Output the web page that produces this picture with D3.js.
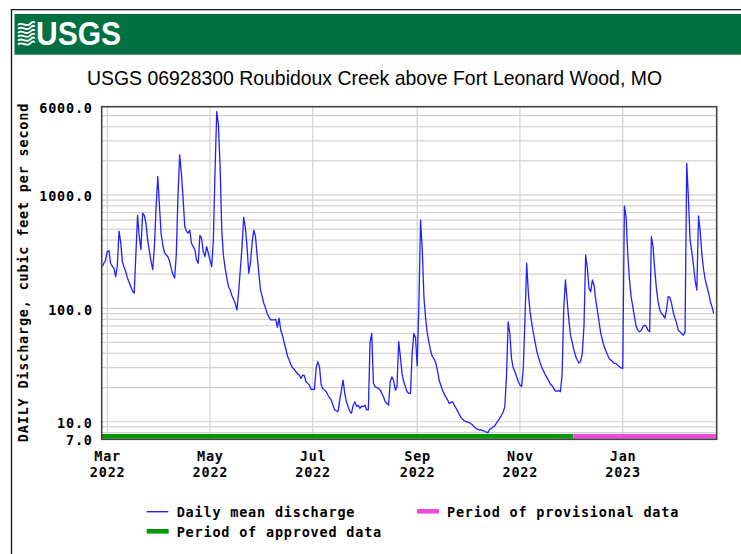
<!DOCTYPE html>
<html>
<head>
<meta charset="utf-8">
<script src="https://cdn.jsdelivr.net/npm/d3@7"></script>
<style>
    html, body { margin: 0; padding: 0; background: #fff; }
    svg { display: block; }
    .mono { font-family: "DejaVu Sans Mono", "Liberation Mono", monospace; font-weight: bold; font-size: 13.5px; letter-spacing: 0.8px; fill: #000; }
</style>
</head>
<body>
<div id="chart"></div>
<script>
'use strict';

// ---- data ----
const stationTitle = "USGS 06928300 Roubidoux Creek above Fort Leonard Wood, MO";
const yAxisTitle = "DAILY Discharge, cubic feet per second";
const firstDay = "2022-02-26";

// daily mean discharge, ft3/s, one value per day starting at firstDay
const dailyMean = [
    233, 250, 267, 316, 323, 250, 235, 225, 190, 240,
    480, 380, 258, 230, 210, 185, 170, 155, 142, 136,
    300, 660, 430, 330, 690, 660, 560, 400, 320, 260,
    220, 350, 780, 1450, 800, 450, 360, 310, 295, 285,
    260, 225, 200, 185, 300, 1000, 2250, 1550, 950, 530,
    480, 460, 490, 375, 350, 330, 267, 250, 440, 415,
    316, 286, 350, 306, 267, 233, 401, 1660, 5440, 4150,
    1780, 480, 290, 225, 185, 155, 145, 130, 120, 110,
    97, 140, 220, 350, 635, 510, 350, 204, 250, 380,
    490, 430, 290, 204, 145, 127, 110, 100, 90, 84,
    79, 79, 79, 80, 68, 82, 64, 58, 50, 44,
    38, 35, 32, 30, 29, 27.6, 26.5, 25.8, 24.1, 25.8,
    25.5, 22.5, 21.8, 21.1, 19.3, 19.3, 19.3, 29.6, 33.8, 30.6,
    21.1, 19.7, 19, 18.4, 17.2, 16.2, 15.5, 14.0, 12.7, 12.5,
    12.3, 15.5, 19.0, 23.3, 17.8, 15, 13.6, 12.3, 11.9, 14,
    15, 13.6, 14, 13.1, 13.7, 13.6, 14, 12.7, 12.7, 50,
    60, 22, 20.4, 20.0, 19.7, 19.0, 17.8, 16.6, 15.0, 14.5,
    14.0, 22.5, 24.9, 23, 19, 20.4, 50.8, 37.5, 26.7, 22.5,
    20.4, 18.4, 17.8, 17.8, 40, 60, 55, 31, 110, 600,
    330, 125, 82, 60, 50, 42, 37.5, 36, 33, 28.6,
    23.3, 21, 19, 17.6, 16.5, 15.6, 14.5, 14.8, 15.0, 14.0,
    13.2, 12.4, 11.6, 10.9, 10.5, 10.2, 10.0, 9.9, 9.8, 9.6,
    9.3, 9.0, 8.7, 8.6, 8.4, 8.5, 8.3, 8.3, 8.1, 8.0,
    8.6, 8.7, 9.0, 9.2, 9.7, 10.2, 10.7, 11.4, 12.2, 13.5,
    25, 76, 60, 36, 30, 27.6, 25, 22.5, 21.1, 20.4,
    30, 84, 250, 136, 93, 74, 60, 50, 42, 37,
    33, 30, 28, 26, 24.5, 23, 21.5, 20.8, 19.8, 18.6,
    18.6, 18.8, 18.4, 25.8, 100, 178, 118, 80, 58, 50,
    43, 38, 35, 33, 34, 40, 69, 296, 225, 150,
    140, 178, 160, 118, 95, 75, 60, 52, 46, 42,
    39, 36, 35, 33.8, 32.7, 32.7, 31.5, 30.6, 29.8, 29.6,
    800, 640, 300, 178, 127, 103, 84, 69, 64, 62,
    64, 69, 71, 69, 64, 62, 429, 350, 220, 150,
    115, 97, 90, 87, 82, 97, 127, 125, 110, 92,
    82, 74, 64, 62, 60, 58, 62, 1900, 935, 400,
    316, 241, 175, 145, 653, 475, 300, 220, 178, 155,
    136, 115, 103, 90
];

const xDomain = ["2022-02-25T17:00", "2023-02-25T19:00"];
const xTickDates = ["2022-03-01", "2022-05-01", "2022-07-01", "2022-09-01", "2022-11-01", "2023-01-01"];
const yDomain = [7, 6000];
const yTickValues = [6000, 1000, 100, 10, 7];

const periodNames = ["Period of approved data", "Period of provisional data"];
const periodStarts = ["2022-02-25T17:00", "2022-12-02T17:00"];
const periodEnds = ["2022-12-02T17:00", "2023-02-25T19:00"];
const periodColors = ["#009a00", "#f04adc"];

const lineName = "Daily mean discharge";
const lineColor = "#2121ff";

// ---- layout ----
const W = 741, H = 554;
const plot = {left: 101.7, top: 106.7, width: 615, height: 332.6};

const parseDay = d3.utcParse("%Y-%m-%d");
const parseTime = d3.utcParse("%Y-%m-%dT%H:%M");

const start = parseDay(firstDay);
const series = dailyMean.map((v, i) => ({date: d3.utcDay.offset(start, i), value: v}));

const x = d3.scaleUtc()
    .domain(xDomain.map(parseTime))
    .range([0, plot.width]);

const y = d3.scaleLog()
    .domain(yDomain)
    .range([plot.height, 0]);

const svg = d3.select('#chart').append('svg')
    .attr('width', W)
    .attr('height', H);

// outer frame lines
svg.append('path')
    .attr('d', 'M11.5,554 L11.5,9.7 L741,9.7')
    .attr('fill', 'none')
    .attr('stroke', '#111')
    .attr('stroke-width', 1.3);

// USGS banner
const banner = svg.append('g');
banner.append('rect')
    .attr('x', 14.5).attr('y', 14)
    .attr('width', W - 14.5).attr('height', 40.7)
    .attr('fill', '#006f41');

const waves = banner.append('g')
    .attr('fill', 'none')
    .attr('stroke', '#fff')
    .attr('stroke-width', 1.9);
[0, 1, 2, 3, 4, 5].forEach(i => {
    let y0 = 24 + i * 3.9;
    waves.append('path')
        .attr('d', 'M18,' + (y0 + 1) + ' C22,' + (y0 - 3) + ' 26,' + (y0 + 4) + ' 30,' + y0 + ' S34,' + (y0 - 1) + ' 35,' + (y0 - 2));
});

banner.append('text')
    .attr('x', 36)
    .attr('y', 45)
    .attr('textLength', 85)
    .attr('lengthAdjust', 'spacingAndGlyphs')
    .style('font-family', '"Liberation Sans Narrow", "Liberation Sans", Arial, sans-serif')
    .style('font-weight', 'bold')
    .style('font-size', '33px')
    .style('fill', '#fff')
    .text('USGS');

// title
svg.append('text')
    .attr('x', 374.5)
    .attr('y', 84.5)
    .attr('text-anchor', 'middle')
    .attr('textLength', 575)
    .attr('lengthAdjust', 'spacingAndGlyphs')
    .style('font-family', '"Liberation Sans Narrow", "Liberation Sans", Arial, sans-serif')
    .style('font-size', '21px')
    .style('fill', '#000')
    .text(stationTitle);

const chart = svg.append('g')
    .attr('transform', 'translate(' + plot.left + ',' + plot.top + ')');

// grid
const gridColor = '#d2d2d2';
chart.append('g')
    .selectAll('line')
    .data(y.ticks().filter(d => d > yDomain[0] && d < yDomain[1]))
    .enter()
    .append('line')
    .attr('x1', 0).attr('x2', plot.width)
    .attr('y1', d => y(d)).attr('y2', d => y(d))
    .attr('stroke', gridColor)
    .attr('stroke-width', 1.2);

chart.append('g')
    .selectAll('line')
    .data(xTickDates.map(parseDay))
    .enter()
    .append('line')
    .attr('x1', d => x(d)).attr('x2', d => x(d))
    .attr('y1', 0).attr('y2', plot.height)
    .attr('stroke', gridColor)
    .attr('stroke-width', 1.2);

// period bars
chart.append('g')
    .selectAll('rect')
    .data(periodNames)
    .enter()
    .append('rect')
    .attr('x', (d, i) => x(parseTime(periodStarts[i])))
    .attr('width', (d, i) => x(parseTime(periodEnds[i])) - x(parseTime(periodStarts[i])))
    .attr('y', plot.height - 5.3)
    .attr('height', 4.6)
    .attr('fill', (d, i) => periodColors[i]);

// discharge line
const line = d3.line()
    .x(d => x(d.date))
    .y(d => y(d.value));

chart.append('path')
    .datum(series)
    .attr('d', line)
    .attr('fill', 'none')
    .attr('stroke', lineColor)
    .attr('stroke-width', 1.3)
    .attr('stroke-linejoin', 'round');

// plot frame
chart.append('rect')
    .attr('width', plot.width)
    .attr('height', plot.height)
    .attr('fill', 'none')
    .attr('stroke', '#444')
    .attr('stroke-width', 1.6);

// y axis labels
const yAxis = d3.axisLeft(y)
    .tickValues(yTickValues)
    .tickFormat(d3.format('.1f'))
    .tickSize(0)
    .tickPadding(8.9);

const yAxisGroup = chart.append('g').call(yAxis);
yAxisGroup.select('.domain').remove();
yAxisGroup.selectAll('text')
    .attr('class', 'mono')
    .attr('dy', '0.42em')
    .attr('fill', null);

// x axis labels, two lines each
const xAxisGroup = chart.append('g')
    .attr('transform', 'translate(0,' + plot.height + ')');
const xLabels = xAxisGroup.selectAll('text')
    .data(xTickDates.map(parseDay))
    .enter()
    .append('text')
    .attr('class', 'mono')
    .attr('text-anchor', 'middle')
    .attr('transform', d => 'translate(' + (x(d) + 0.4) + ',0)');
xLabels.append('tspan')
    .attr('x', 0).attr('y', 21.4)
    .text(d3.utcFormat('%b'));
xLabels.append('tspan')
    .attr('x', 0).attr('y', 37.4)
    .text(d3.utcFormat('%Y'));

// y axis title
svg.append('text')
    .attr('class', 'mono')
    .attr('text-anchor', 'middle')
    .attr('transform', 'translate(27.5,272.5) rotate(-90)')
    .text(yAxisTitle);

// legend
const legend = svg.append('g');
legend.append('line')
    .attr('x1', 146.7).attr('x2', 168.3)
    .attr('y1', 511.7).attr('y2', 511.7)
    .attr('stroke', lineColor)
    .attr('stroke-width', 1.4);
legend.append('text')
    .attr('class', 'mono')
    .attr('x', 176.7).attr('y', 516.7)
    .text(lineName);

const legendPos = [{x: 146.7, y: 531.3}, {x: 417, y: 511.3}];
periodNames.forEach((name, i) => {
    let p = legendPos[i];
    legend.append('rect')
        .attr('x', p.x).attr('y', p.y - 2.3)
        .attr('width', 22).attr('height', 4.6)
        .attr('fill', periodColors[i]);
    legend.append('text')
        .attr('class', 'mono')
        .attr('x', p.x + 30).attr('y', p.y + 5.2)
        .text(name);
});
</script>
</body>
</html>
